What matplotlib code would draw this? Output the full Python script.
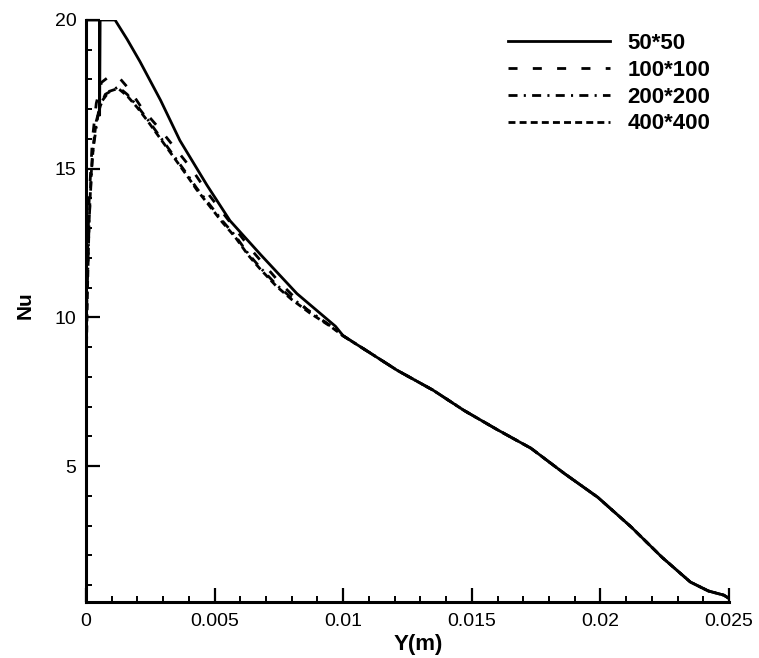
import matplotlib
matplotlib.use("Agg")
import matplotlib.pyplot as plt
from matplotlib.ticker import MultipleLocator, FixedLocator

plt.rcParams['font.family'] = ['Liberation Sans', 'DejaVu Sans']
plt.rcParams['lines.scale_dashes'] = False

# near-wall part of each grid (Y in m, Nu)
y_50 = [0.0, 0.00052, 0.00053, 0.00055, 0.00113, 0.0016, 0.0021, 0.0029, 0.00365,
        0.0047, 0.0056, 0.0068, 0.0082, 0.0097]
nu_50 = [20.0, 20.0, 16.8, 20.0, 20.0, 19.35, 18.6, 17.3, 15.95,
         14.45, 13.25, 12.1, 10.8, 9.7]

y_100 = [0.0, 0.000125, 0.00025, 0.0004, 0.0006, 0.0009, 0.0013, 0.0017, 0.0022,
         0.0029, 0.0035, 0.0041, 0.0048, 0.0056, 0.0065, 0.0075, 0.0086, 0.0095]
nu_100 = [10.5, 14.0, 16.0, 17.2, 17.9, 18.1, 18.05, 17.65, 17.0,
          16.3, 15.65, 15.0, 14.1, 13.2, 12.2, 11.2, 10.25, 9.72]

y_200 = [0.0, 0.000125, 0.00025, 0.0005, 0.00075, 0.00125, 0.0016, 0.002, 0.0024,
         0.0029, 0.0034, 0.0039, 0.0043, 0.0048, 0.0053, 0.0058, 0.0063, 0.0068,
         0.0074, 0.008, 0.0087, 0.0095]
nu_200 = [9.5, 13.3, 15.5, 17.0, 17.5, 17.75, 17.5, 17.1, 16.65,
          16.05, 15.45, 14.85, 14.35, 13.8, 13.25, 12.75, 12.15, 11.65,
          11.1, 10.65, 10.2, 9.72]

y_400 = [0.0, 0.00006, 0.00012, 0.0002, 0.0003, 0.0004, 0.0006, 0.0009, 0.00125,
         0.0016, 0.002, 0.0024, 0.0029, 0.0034, 0.0039, 0.0043, 0.0048, 0.0053,
         0.0058, 0.0063, 0.0068, 0.0074, 0.008, 0.0087, 0.0095]
nu_400 = [8.0, 11.0, 13.2, 14.8, 15.9, 16.6, 17.25, 17.6, 17.7,
          17.45, 17.05, 16.6, 16.0, 15.4, 14.8, 14.3, 13.75, 13.2,
          12.7, 12.1, 11.6, 11.05, 10.6, 10.15, 9.7]

# where the four grids fall on top of each other
y_tail = [0.01, 0.011, 0.0121, 0.0135, 0.0147, 0.016, 0.0173, 0.0186, 0.0199,
          0.0212, 0.0224, 0.0235, 0.0242, 0.0248, 0.025]
nu_tail = [9.38, 8.83, 8.22, 7.55, 6.87, 6.22, 5.6, 4.75, 3.95,
           2.95, 1.93, 1.1, 0.8, 0.66, 0.55]

labels = ['50*50', '100*100', '200*200', '400*400']
dashes = [None, (6.5, 11), (6.5, 4.5, 1.5, 4.5), (5, 3)]

fig = plt.figure(figsize=(7.59, 6.58), dpi=100)
ax = fig.add_axes([86 / 759, 1 - 602 / 658, 643 / 759, 582 / 658])

series = [(y_50, nu_50), (y_100, nu_100), (y_200, nu_200), (y_400, nu_400)]
for (ys, nus), lab, d in zip(series, labels, dashes):
    line, = ax.plot(ys + y_tail, nus + nu_tail, color='black', lw=2.0, label=lab)
    if d is not None:
        line.set_dashes(d)

ax.set_xlim(0, 0.025)
ax.set_ylim(0.43, 20)
ax.xaxis.set_major_locator(FixedLocator([0, 0.005, 0.01, 0.015, 0.02, 0.025]))
ax.set_xticklabels(['0', '0.005', '0.01', '0.015', '0.02', '0.025'])
ax.xaxis.set_minor_locator(MultipleLocator(0.001))
ax.yaxis.set_major_locator(FixedLocator([5, 10, 15, 20]))
ax.yaxis.set_minor_locator(MultipleLocator(1))

for side in ['top', 'right']:
    ax.spines[side].set_visible(False)
for side in ['left', 'bottom']:
    ax.spines[side].set_linewidth(2.2)

ax.tick_params(which='major', direction='in', length=10, width=1.6, labelsize=14, pad=8)
ax.tick_params(which='minor', direction='in', length=4.5, width=1.4)
ax.tick_params(axis='y', which='major', pad=7)

ax.set_xlabel('Y(m)', fontsize=16, fontweight='bold')
ax.set_ylabel('Nu', fontsize=15, fontweight='bold')
ax.xaxis.set_label_coords(0.516, -0.055)
ax.yaxis.set_label_coords(-0.08, 0.51)

ax.legend(loc='upper left', bbox_to_anchor=(508 / 759, 1 - 33 / 658),
          bbox_transform=fig.transFigure, frameon=False, borderpad=0,
          borderaxespad=0, handlelength=4.6, handletextpad=0.77,
          labelspacing=0.26, prop={'size': 16, 'weight': 'bold'})

plt.savefig('out.png', dpi=100)
